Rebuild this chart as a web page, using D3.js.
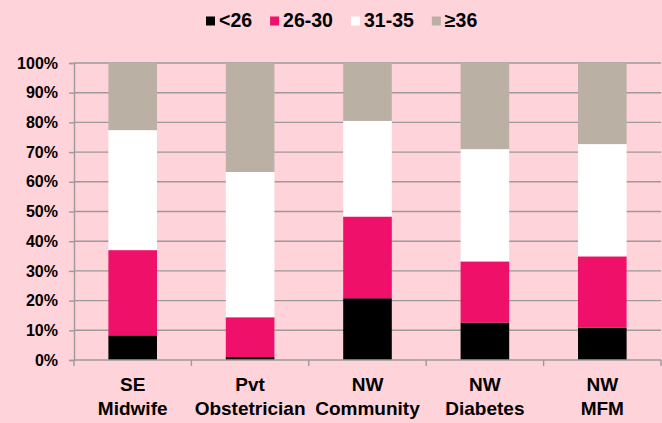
<!DOCTYPE html>
<html>
<head>
<meta charset="utf-8">
<script src="https://cdn.jsdelivr.net/npm/d3@7"></script>
<style>
  html, body { margin: 0; padding: 0; background: #fed3da; }
  svg { display: block; }
  text { font-family: "Liberation Sans", Arial, sans-serif; font-weight: bold; fill: #000; }
</style>
</head>
<body>
<svg id="chart" width="662" height="423"></svg>
<script>
// Age groups of women by clinic, as share of each clinic's total (%)
const categories = [["SE", "Midwife"], ["Pvt", "Obstetrician"], ["NW", "Community"], ["NW", "Diabetes"], ["NW", "MFM"]];
const seriesNames = ["<26", "26-30", "31-35", "\u226536"];
const under26 = [8.3, 1.0, 20.8, 12.6, 10.9];
const age26to30 = [28.7, 13.4, 27.5, 20.6, 24.0];
const age31to35 = [40.4, 48.9, 32.2, 37.8, 37.8];
const age36plus = [22.6, 36.7, 19.5, 29.0, 27.3];
const yTicks = [0, 10, 20, 30, 40, 50, 60, 70, 80, 90, 100];
const colors = ["#000000", "#ef1169", "#ffffff", "#bbb0a4"];

const seriesValues = [under26, age26to30, age31to35, age36plus];
const rows = categories.map((c, i) => {
  const r = { key: c.join(" ") };
  seriesNames.forEach((s, j) => { r[s] = seriesValues[j][i]; });
  return r;
});

const svg = d3.select("#chart");
const margin = { left: 74, right: 1, top: 63, bottom: 63 };
const W = 662, H = 423;

const x = d3.scaleBand()
  .domain(rows.map(r => r.key))
  .range([margin.left, W - margin.right])
  .paddingInner(0.586)
  .paddingOuter(0.293);
const y = d3.scaleLinear().domain([0, 100]).range([H - margin.bottom, margin.top]);

// horizontal gridlines
svg.append("g")
  .selectAll("line")
  .data(yTicks.slice(1))
  .join("line")
  .attr("x1", margin.left).attr("x2", W - margin.right)
  .attr("y1", d => y(d)).attr("y2", d => y(d))
  .attr("stroke", "#9c9a9b").attr("stroke-width", 1.4);

// stacked bars
const stacked = d3.stack().keys(seriesNames)(rows);
svg.append("g")
  .selectAll("g")
  .data(stacked)
  .join("g")
  .attr("fill", (d, i) => colors[i])
  .selectAll("rect")
  .data(d => d)
  .join("rect")
  .attr("x", d => x(d.data.key))
  .attr("width", x.bandwidth())
  .attr("y", d => y(d[1]))
  .attr("height", d => y(d[0]) - y(d[1]));

// y axis
const yAxis = d3.axisLeft(y).tickValues(yTicks).tickFormat(d => d + "%").tickSize(5).tickPadding(11);
const gy = svg.append("g").attr("transform", `translate(${margin.left},0)`).call(yAxis);
gy.select(".domain").attr("stroke", "#9c9a9b").attr("stroke-width", 1.4);
gy.selectAll(".tick line").attr("stroke", "#9c9a9b").attr("stroke-width", 1.4);
gy.selectAll(".tick text").style("font-size", "16px").style("font-family", "Liberation Sans, Arial, sans-serif").style("font-weight", "bold").attr("fill", "#000");

// x axis with tick marks at category boundaries
const bandStep = x.step();
const x0 = margin.left;
const boundaries = d3.range(categories.length + 1).map(i => x0 + i * bandStep);
svg.append("line")
  .attr("x1", margin.left).attr("x2", W - margin.right)
  .attr("y1", y(0)).attr("y2", y(0))
  .attr("stroke", "#9c9a9b").attr("stroke-width", 1.4);
svg.append("g")
  .selectAll("line")
  .data(boundaries)
  .join("line")
  .attr("x1", d => d).attr("x2", d => d)
  .attr("y1", y(0)).attr("y2", y(0) + 6)
  .attr("stroke", "#9c9a9b").attr("stroke-width", 1.4);

// category labels on two lines
const labels = svg.append("g")
  .selectAll("text")
  .data(categories)
  .join("text")
  .attr("text-anchor", "middle")
  .style("font-size", "19px")
  .attr("x", (d, i) => x(rows[i].key) + x.bandwidth() / 2);
labels.append("tspan").attr("y", 391).text(d => d[0]);
labels.append("tspan").attr("y", 415).attr("x", (d, i) => x(rows[i].key) + x.bandwidth() / 2).text(d => d[1]);

// legend
const legend = svg.append("g");
let lx = 206;
seriesNames.forEach((name, i) => {
  legend.append("rect")
    .attr("x", lx).attr("y", 16.5).attr("width", 9).attr("height", 9)
    .attr("fill", colors[i]);
  const t = legend.append("text")
    .attr("x", lx + 13).attr("y", 27)
    .style("font-size", "19.5px")
    .text(name);
  const w = t.node().getComputedTextLength();
  lx = lx + 13 + w + 18;
});
</script>
</body>
</html>
